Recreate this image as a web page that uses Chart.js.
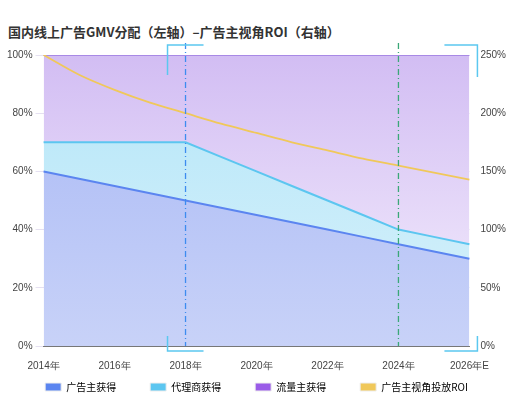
<!DOCTYPE html>
<html><head><meta charset="utf-8">
<script src="https://cdn.jsdelivr.net/npm/chart.js@4"></script>
<style>
body{margin:0;background:#fff;font-family:"Noto Sans CJK SC","Noto Sans",sans-serif;}
#title{position:absolute;left:8px;top:22px;font-size:13px;font-weight:bold;color:#333;}
#wrap{position:absolute;left:0;top:40px;width:527px;height:362px;}
</style></head><body>
<div id="title">国内线上广告GMV分配（左轴）–广告主视角ROI（右轴）</div>
<div id="wrap"><canvas id="c"></canvas></div>
<script>
const years = ['2014年','2015年','2016年','2017年','2018年','2019年','2020年','2021年','2022年','2023年','2024年','2025年','2026年E'];
const advertiser = [60,57.5,55,52.5,50,47.5,45,42.5,40,37.5,35,32.5,30];
const agencyTop = [70,70,70,70,70,65,60,55,50,45,40,37.5,35];
const roi = [250,233,220,209,200,191,183,175,168,161,155,149,143];
const agency = agencyTop.map((v, i) => v - advertiser[i]);
const traffic = agencyTop.map(v => 100 - v);

function grad(ctx, area, top, bottom) {
  const g = ctx.createLinearGradient(0, area.top, 0, area.bottom);
  g.addColorStop(0, top); g.addColorStop(1, bottom); return g;
}

const decorPlugin = {
  id: 'decor',
  afterDatasetsDraw(chart) {
    const {ctx, chartArea: a, scales: {x}} = chart;
    ctx.save();
    ctx.setLineDash([6, 3, 1, 3]);
    ctx.lineWidth = 1.3;
    [[4, '#3d8cf0'], [10, '#3aa877']].forEach(([i, col]) => {
      const px = x.getPixelForValue(i);
      ctx.strokeStyle = col;
      ctx.beginPath(); ctx.moveTo(px, a.top - 12); ctx.lineTo(px, a.bottom); ctx.stroke();
    });
    ctx.setLineDash([]);
    ctx.strokeStyle = '#5bc8f0'; ctx.lineWidth = 1.5;
    const x18 = x.getPixelForValue(4), xr = a.right;
    const seg = (pts) => { ctx.beginPath(); ctx.moveTo(...pts[0]); pts.slice(1).forEach(p => ctx.lineTo(...p)); ctx.stroke(); };
    seg([[x18 - 18, a.top + 20], [x18 - 18, a.top - 10], [x18 + 18, a.top - 10]]);
    seg([[xr - 25, a.top - 10], [xr + 8, a.top - 10], [xr + 8, a.top + 22]]);
    seg([[x18 - 18, a.bottom - 10], [x18 - 18, a.bottom + 5], [x18 + 18, a.bottom + 5]]);
    seg([[xr + 8, a.bottom - 10], [xr + 8, a.bottom + 5], [xr - 25, a.bottom + 5]]);
    ctx.restore();
  }
};

new Chart(document.getElementById('c'), {
  type: 'line',
  data: {
    labels: years,
    datasets: [
      {label: '广告主获得', data: advertiser, stack: 's', fill: 'origin', borderColor: '#5b85f0', borderWidth: 2,
       backgroundColor: c => c.chart.chartArea ? grad(c.chart.ctx, c.chart.chartArea, '#a8b8f5', '#c8d2f8') : '#b8c6f7', pointRadius: 0, order: 1},
      {label: '代理商获得', data: agency, stack: 's', fill: '-1', borderColor: '#5cc6f0', borderWidth: 2,
       backgroundColor: c => c.chart.chartArea ? grad(c.chart.ctx, c.chart.chartArea, '#b4e6f8', '#d8f1fb') : '#c6ecfa', pointRadius: 0, order: 1},
      {label: '流量主获得', data: traffic, stack: 's', fill: '-1', borderColor: '#9a78e0', borderWidth: 1.5,
       backgroundColor: c => c.chart.chartArea ? grad(c.chart.ctx, c.chart.chartArea, '#d2bdf3', '#f6f0fd') : '#e2d4f7', pointRadius: 0, order: 1},
      {label: '广告主视角投放ROI', data: roi, yAxisID: 'y1', fill: false, borderColor: '#f0c85a', backgroundColor: '#f0c85a',
       borderWidth: 1.8, pointRadius: 0, tension: 0.3, order: 0}
    ]
  },
  options: {
    responsive: true, maintainAspectRatio: false, animation: false,
    layout: {padding: {left: 4, right: 18, top: 15, bottom: 0}},
    plugins: {
      legend: {position: 'bottom', labels: {boxWidth: 16, boxHeight: 8, padding: 4, color: '#555',
        font: {size: 10, family: '"Noto Sans CJK SC"'},
        generateLabels: ch => ch.data.datasets.map((d, i) => ({text: d.label + (i < 3 ? '\u3000\u3000\u3000' : ''), fillStyle: ['#5b85f0','#5cc6f0','#9a5ce8','#f0c85a'][i],
          strokeStyle: '#eee', lineWidth: 1, datasetIndex: i}))}},
      tooltip: {enabled: false}
    },
    scales: {
      x: {offset: false, grid: {display: false}, border: {color: '#777'},
        ticks: {color: '#444', font: {size: 10}, maxRotation: 0, autoSkip: false, padding: 6,
          callback: (v, i) => i % 2 === 0 ? years[i] : ''}},
      y: {stacked: true, min: 0, max: 100, ticks: {stepSize: 20, color: '#444', font: {size: 10}, callback: v => v + '%'},
        grid: {color: 'rgba(150,130,200,0.25)'}, border: {display: false}},
      y1: {position: 'right', min: 0, max: 250, ticks: {stepSize: 50, color: '#444', font: {size: 10}, callback: v => v + '%'},
        grid: {display: false}, border: {display: false}}
    }
  },
  plugins: [decorPlugin]
});
</script></body></html>
